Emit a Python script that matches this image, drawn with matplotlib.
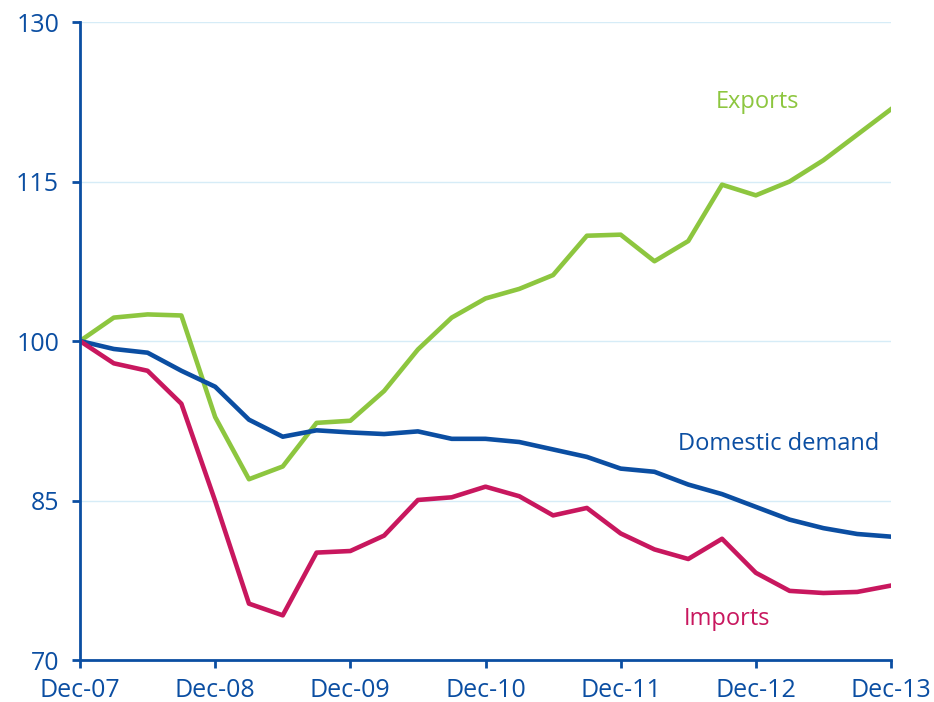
import matplotlib
matplotlib.use('Agg')
import matplotlib.pyplot as plt

quarters = list(range(25))
tick_labels = ['Dec-07', 'Dec-08', 'Dec-09', 'Dec-10', 'Dec-11', 'Dec-12', 'Dec-13']

exports = [100, 102.2, 102.5, 102.4, 92.85, 87.0, 88.2, 92.3, 92.5, 95.3, 99.2, 102.2,
           104.0, 104.9, 106.2, 109.9, 110.0, 107.5, 109.4, 114.7, 113.7, 115.0, 117.0,
           119.4, 121.8]
domestic = [100, 99.25, 98.9, 97.2, 95.7, 92.6, 91.0, 91.6, 91.4, 91.25, 91.5, 90.8,
            90.8, 90.5, 89.8, 89.1, 88.0, 87.7, 86.5, 85.6, 84.4, 83.2, 82.4, 81.85, 81.6]
imports = [100, 97.9, 97.2, 94.1, 84.95, 75.3, 74.2, 80.1, 80.25, 81.7, 85.05, 85.3,
           86.3, 85.4, 83.6, 84.3, 81.9, 80.4, 79.5, 81.4, 78.2, 76.5, 76.3, 76.4, 77.0]

blue = '#0B4EA2'
green = '#8DC63F'
red = '#C8175E'

plt.rcParams['font.family'] = ['Open Sans', 'DejaVu Sans']

fig = plt.figure(figsize=(9.34, 7.02), dpi=100)
ax = fig.add_axes([80/934, 42/702, 811/934, 638/702])

ax.plot(quarters, exports, color=green, lw=3.3)
ax.plot(quarters, domestic, color=blue, lw=3.3)
ax.plot(quarters, imports, color=red, lw=3.3)

ax.set_xlim(0, 24)
ax.set_ylim(70, 130)
ax.set_yticks([70, 85, 100, 115, 130])
ax.set_xticks(range(0, 25, 4))
ax.set_xticklabels(tick_labels)
ax.grid(axis='y', color='#D6ECF7', lw=1)
ax.set_axisbelow(True)

for s in ['top', 'right']:
    ax.spines[s].set_visible(False)
for s in ['left', 'bottom']:
    ax.spines[s].set_color(blue)
    ax.spines[s].set_linewidth(2)
ax.tick_params(colors=blue, labelsize=18, width=2, length=6, labelcolor=blue)
ax.tick_params(axis='x', pad=7)
ax.tick_params(axis='y', pad=9)

ax.text(20.04, 122.5, 'Exports', color=green, fontsize=17, ha='center', va='center')
ax.text(20.66, 90.3, 'Domestic demand', color=blue, fontsize=17, ha='center', va='center')
ax.text(19.15, 73.85, 'Imports', color=red, fontsize=17, ha='center', va='center')

fig.savefig('out.png', dpi=100)
